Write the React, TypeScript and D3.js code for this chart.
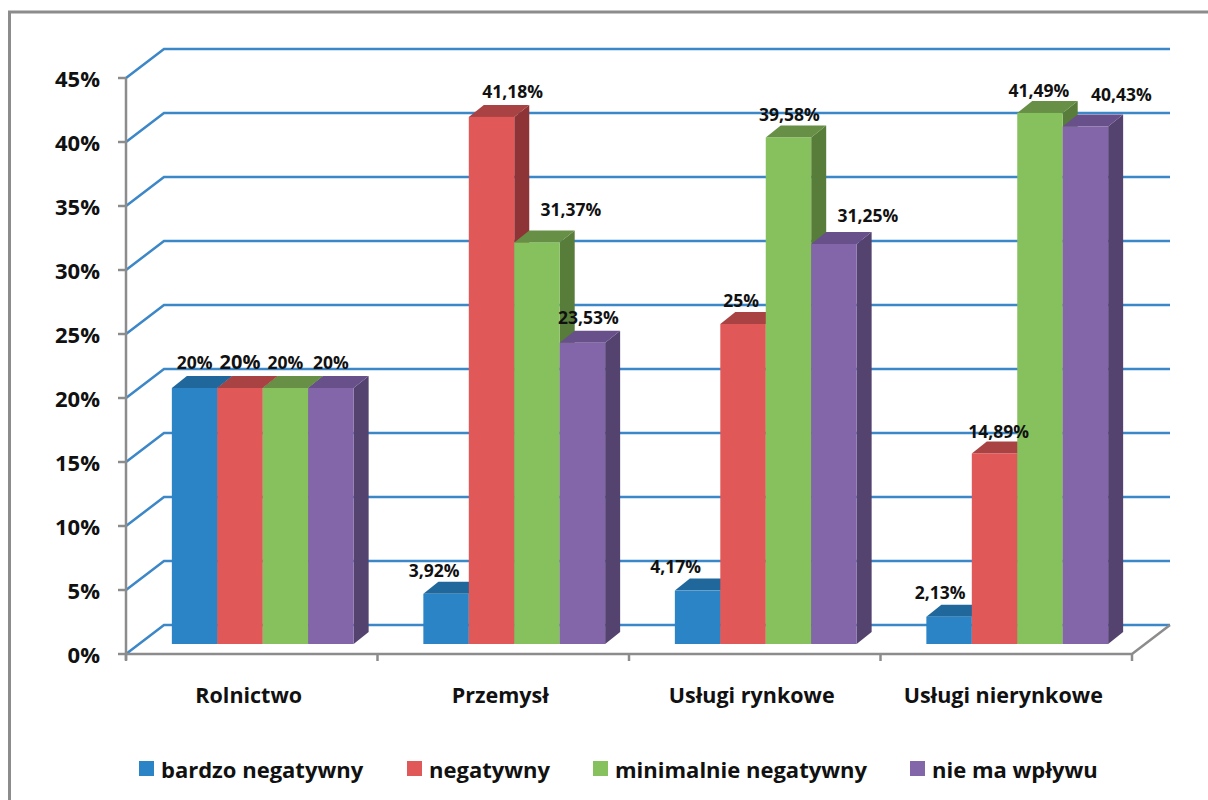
import React from "react";
import * as d3 from "d3";

// Ocena wpływu na sektory gospodarki (udział odpowiedzi, %)
const categories = ["Rolnictwo", "Przemysł", "Usługi rynkowe", "Usługi nierynkowe"];
const seriesNames = ["bardzo negatywny", "negatywny", "minimalnie negatywny", "nie ma wpływu"];

const bardzoNegatywny = [20, 3.92, 4.17, 2.13];
const negatywny = [20, 41.18, 25, 14.89];
const minimalnieNegatywny = [20, 31.37, 39.58, 41.49];
const nieMaWplywu = [20, 23.53, 31.25, 40.43];

const seriesValues = [bardzoNegatywny, negatywny, minimalnieNegatywny, nieMaWplywu];

const yTicks = [0, 5, 10, 15, 20, 25, 30, 35, 40, 45];

// Visual styling
const palette = [
  { front: "#2A84C6", top: "#20679B", side: "#1C5A89" },
  { front: "#E15858", top: "#A94242", side: "#8E3336" },
  { front: "#86C15E", top: "#678F45", side: "#587C3A" },
  { front: "#8266A9", top: "#68508B", side: "#54426F" },
];

// Label nudges relative to the top-front centre of each bar [series][category]
const labelNudge: [number, number][][] = [
  [[0, -19], [-12, -17], [-22, -18], [-9, -18]],
  [[0, -19], [21, -19], [-2, -17], [4, -15]],
  [[0, -19], [34, -26], [1, -16], [-1, -16]],
  [[0, -19], [6, -19], [34, -22], [36, -25]],
];

const legendX = [139, 407, 593, 910];

const FONT = "'Open Sans', 'DejaVu Sans', sans-serif";

export default function App() {
  const width = 1208;
  const height = 800;

  const plotLeft = 126;
  const plotRight = 1132;
  // wall depth (projection of the chart depth axis)
  const wallDx = 38;
  const wallDy = -29;
  // bar placement in depth
  const barFrontDx = 11;
  const barFrontDy = -10;
  const barDepthDx = 15;
  const barDepthDy = -12;

  const y = d3.scaleLinear().domain([0, 45]).range([654, 78]);
  const x0 = d3.scaleBand<string>().domain(categories).range([plotLeft, plotRight]).paddingInner(0).paddingOuter(0);
  const x1 = d3
    .scaleBand<string>()
    .domain(seriesNames)
    .range([0, x0.bandwidth()])
    .paddingInner(0)
    .paddingOuter(0.767);

  const fmt = (v: number) => String(v).replace(".", ",") + "%";

  const gridColor = "#3B87C8";
  const axisColor = "#8C8C8C";

  const bars: React.ReactNode[] = [];
  const labels: React.ReactNode[] = [];

  categories.forEach((cat, ci) => {
    seriesNames.forEach((s, si) => {
      const v = seriesValues[si][ci];
      const xl = (x0(cat) as number) + (x1(s) as number) + barFrontDx;
      const w = x1.bandwidth();
      const xr = xl + w;
      const yb = y(0) + barFrontDy;
      const yt = y(v) + barFrontDy;
      const c = palette[si];
      const side = `M${xr},${yt} L${xr + barDepthDx},${yt + barDepthDy} L${xr + barDepthDx},${yb + barDepthDy} L${xr},${yb} Z`;
      const top = `M${xl},${yt} L${xl + barDepthDx},${yt + barDepthDy} L${xr + barDepthDx},${yt + barDepthDy} L${xr},${yt} Z`;
      bars.push(
        <g key={`b-${ci}-${si}`}>
          <path d={side} fill={c.side} />
          <path d={top} fill={c.top} />
          <rect x={xl} y={yt} width={w} height={yb - yt} fill={c.front} />
        </g>
      );
      const [ndx, ndy] = labelNudge[si][ci];
      const big = ci === 0 && si === 1;
      labels.push(
        <text
          key={`l-${ci}-${si}`}
          x={xl + w / 2 + ndx}
          y={yt + ndy}
          textAnchor="middle"
          fontFamily={FONT}
          fontWeight="bold"
          fontSize={big ? 20 : 17.5}
          fill="#111"
        >
          {fmt(v)}
        </text>
      );
    });
  });

  return (
    <svg
      width={width}
      height={height}
      style={{ position: "absolute", left: 0, top: 0, background: "#fff" }}
    >
      {/* outer frame */}
      <rect x={9.5} y={12} width={1300} height={900} fill="#fff" stroke={axisColor} strokeWidth={3} />

      {/* gridlines on the side and back walls */}
      {yTicks.map((t) => (
        <path
          key={`g-${t}`}
          d={`M${plotLeft},${y(t)} L${plotLeft + wallDx},${y(t) + wallDy} L${plotRight + wallDx},${y(t) + wallDy}`}
          fill="none"
          stroke={gridColor}
          strokeWidth={2.5}
        />
      ))}

      {/* floor front edge and right edge */}
      <path
        d={`M${plotLeft},${y(0)} L${plotRight},${y(0)} L${plotRight + wallDx},${y(0) + wallDy}`}
        fill="none"
        stroke={axisColor}
        strokeWidth={2.5}
      />

      {/* y axis */}
      <line x1={plotLeft} x2={plotLeft} y1={y(45)} y2={y(0) + 6} stroke={axisColor} strokeWidth={2.5} />
      {yTicks.map((t) => (
        <g key={`yt-${t}`}>
          <line x1={plotLeft - 8} x2={plotLeft} y1={y(t)} y2={y(t)} stroke={axisColor} strokeWidth={2.5} />
          <text
            x={100}
            y={y(t) + 9}
            textAnchor="end"
            fontFamily={FONT}
            fontWeight="bold"
            fontSize={22}
            fill="#111"
          >
            {t}%
          </text>
        </g>
      ))}

      {/* category ticks */}
      {categories.map((c, i) => (
        <line
          key={`ct-${i}`}
          x1={x0(c) as number}
          x2={x0(c) as number}
          y1={y(0)}
          y2={y(0) + 7}
          stroke={axisColor}
          strokeWidth={2.5}
        />
      ))}
      <line x1={plotRight} x2={plotRight} y1={y(0)} y2={y(0) + 7} stroke={axisColor} strokeWidth={2.5} />

      {/* bars */}
      {bars}

      {/* value labels */}
      {labels}

      {/* category labels */}
      {categories.map((c) => (
        <text
          key={`cl-${c}`}
          x={(x0(c) as number) + x0.bandwidth() / 2 - 3}
          y={703}
          textAnchor="middle"
          fontFamily={FONT}
          fontWeight="bold"
          fontSize={21.5}
          fill="#111"
        >
          {c}
        </text>
      ))}

      {/* legend */}
      {seriesNames.map((s, i) => (
        <g key={`lg-${s}`}>
          <rect x={legendX[i]} y={761} width={15} height={15} fill={palette[i].front} />
          <text
            x={legendX[i] + 22}
            y={778}
            fontFamily={FONT}
            fontWeight="bold"
            fontSize={22}
            fill="#111"
          >
            {s}
          </text>
        </g>
      ))}
    </svg>
  );
}
